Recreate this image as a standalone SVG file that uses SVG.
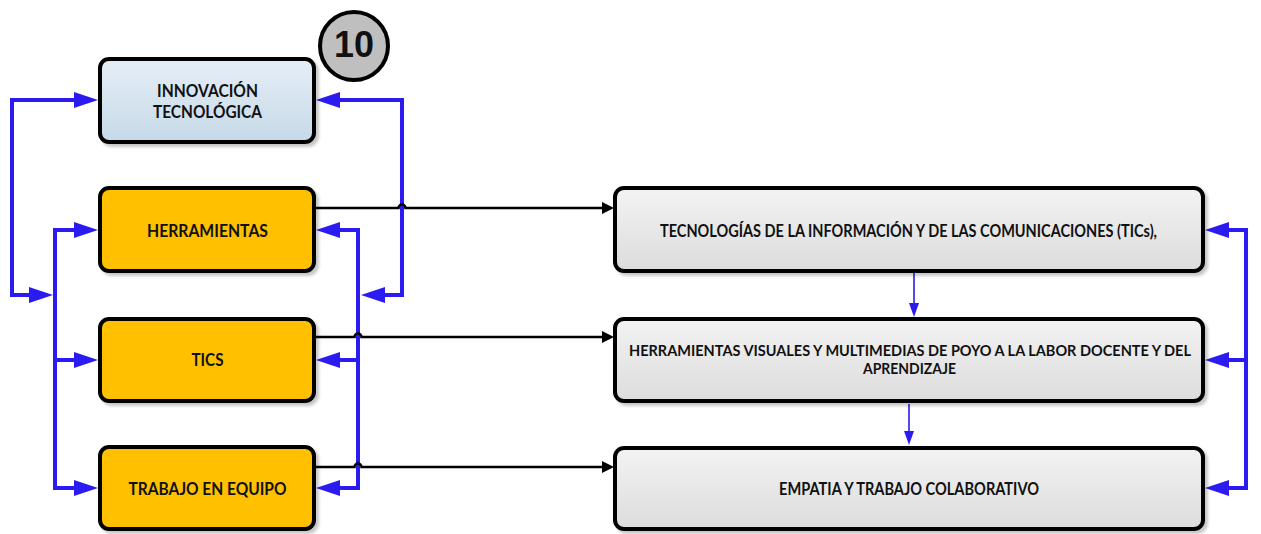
<svg xmlns="http://www.w3.org/2000/svg" width="1261" height="534" viewBox="0 0 1261 534">
  <style>
    .box { stroke: #000; stroke-width: 4; filter: url(#shadow); }
    .blue-box { fill: url(#gBlue); }
    .orange { fill: #ffc000; }
    .grey { fill: url(#gGrey); }
    .lbl { font-family: Lato, "Liberation Sans", sans-serif; font-weight: bold; font-size: 16.5px; fill: #111; text-anchor: middle; }
    .lbl-sm { font-size: 15px; }
    .num { font-family: "Liberation Sans", Arial, sans-serif; font-weight: bold; font-size: 37px; fill: #111; text-anchor: middle; }
    .thick { fill: none; stroke: #2b1bf0; stroke-width: 4; stroke-linejoin: miter; }
    .thin { fill: none; stroke: #2b1bf0; stroke-width: 1.6; }
    .link { fill: none; stroke: #000; stroke-width: 2.5; }
  </style>
  <defs>
    <linearGradient id="gBlue" x1="0" y1="0" x2="0" y2="1">
      <stop offset="0" stop-color="#e5eef6"/>
      <stop offset="1" stop-color="#c6d9e8"/>
    </linearGradient>
    <linearGradient id="gGrey" x1="0" y1="0" x2="0" y2="1">
      <stop offset="0" stop-color="#f3f3f3"/>
      <stop offset="1" stop-color="#dcdcdc"/>
    </linearGradient>
    <filter id="shadow" x="-5%" y="-10%" width="115%" height="130%">
      <feDropShadow dx="3" dy="3" stdDeviation="1.8" flood-color="#000" flood-opacity="0.22"/>
    </filter>
    <marker id="ahBlue" markerUnits="userSpaceOnUse" markerWidth="24" markerHeight="16" viewBox="0 0 24 16" refX="14" refY="8" orient="auto-start-reverse">
      <path d="M0,0 L24,8 L0,16 z" fill="#2b1bf0"/>
    </marker>
    <marker id="ahThin" markerUnits="userSpaceOnUse" markerWidth="14" markerHeight="10" viewBox="0 0 14 10" refX="4" refY="5" orient="auto">
      <path d="M0,0 L14,5 L0,10 z" fill="#2b1bf0"/>
    </marker>
    <marker id="ahBlack" markerUnits="userSpaceOnUse" markerWidth="12" markerHeight="12" viewBox="0 0 12 12" refX="4" refY="6" orient="auto">
      <path d="M0,0 L12,6 L0,12 z" fill="#000"/>
    </marker>
  </defs>

  <!-- connectors -->
  <g id="connectors">
    <!-- left loops -->
    <path class="thick" d="M43,295 L12,295 L12,100 L88,100" marker-start="url(#ahBlue)" marker-end="url(#ahBlue)"/>
    <path class="thick" d="M88,230 L55,230 L55,488 L88,488" marker-start="url(#ahBlue)" marker-end="url(#ahBlue)"/>
    <path class="thick" d="M55,360 L88,360" marker-end="url(#ahBlue)"/>
    <!-- middle loops -->
    <path class="thick" d="M326,100 L402,100 L402,295 L371,295" marker-start="url(#ahBlue)" marker-end="url(#ahBlue)"/>
    <path class="thick" d="M326,230 L358,230 L358,488 L326,488" marker-start="url(#ahBlue)" marker-end="url(#ahBlue)"/>
    <path class="thick" d="M358,360 L326,360" marker-end="url(#ahBlue)"/>
    <!-- right bracket -->
    <path class="thick" d="M1215,230 L1246,230 L1246,488 L1215,488" marker-start="url(#ahBlue)" marker-end="url(#ahBlue)"/>
    <path class="thick" d="M1246,360 L1215,360" marker-end="url(#ahBlue)"/>
    <!-- links to the right column, hopping over the blue lines -->
    <path class="link" d="M316,208 L398.5,208 A3.5,3.5 0 0 1 405.5,208 L606,208" marker-end="url(#ahBlack)"/>
    <path class="link" d="M316,337 L354.5,337 A3.5,3.5 0 0 1 361.5,337 L606,337" marker-end="url(#ahBlack)"/>
    <path class="link" d="M316,467 L354.5,467 A3.5,3.5 0 0 1 361.5,467 L606,467" marker-end="url(#ahBlack)"/>
    <!-- sequence in the right column -->
    <path class="thin" d="M914,273 L914,307" marker-end="url(#ahThin)"/>
    <path class="thin" d="M909,404 L909,435" marker-end="url(#ahThin)"/>
  </g>

  <g id="badge">
    <circle cx="354" cy="46" r="34" fill="#bfbfbf" stroke="#000" stroke-width="4"/>
    <text class="num" x="354" y="57" textLength="40" lengthAdjust="spacingAndGlyphs">10</text>
  </g>

  <g id="innovacion">
    <rect class="box blue-box" x="100" y="59" width="214" height="83" rx="9"/>
    <text class="lbl" x="207.5" y="97" textLength="101" lengthAdjust="spacingAndGlyphs">INNOVACIÓN</text>
    <text class="lbl" x="207.5" y="118" textLength="109" lengthAdjust="spacingAndGlyphs">TECNOLÓGICA</text>
  </g>

  <g id="herramientas">
    <rect class="box orange" x="100" y="188" width="214" height="83" rx="9"/>
    <text class="lbl" x="207.5" y="237" textLength="121" lengthAdjust="spacingAndGlyphs">HERRAMIENTAS</text>
  </g>

  <g id="tics">
    <rect class="box orange" x="100" y="319" width="214" height="82" rx="9"/>
    <text class="lbl" x="207.5" y="366" textLength="32" lengthAdjust="spacingAndGlyphs">TICS</text>
  </g>

  <g id="trabajo">
    <rect class="box orange" x="100" y="447" width="214" height="82" rx="9"/>
    <text class="lbl" x="207.5" y="495" textLength="158" lengthAdjust="spacingAndGlyphs">TRABAJO EN EQUIPO</text>
  </g>

  <g id="tecnologias">
    <rect class="box grey" x="615" y="188" width="588" height="83" rx="9"/>
    <text class="lbl" x="908.5" y="237" textLength="497" lengthAdjust="spacingAndGlyphs">TECNOLOGÍAS DE LA INFORMACIÓN Y DE LAS COMUNICACIONES (TICs),</text>
  </g>

  <g id="herramientas-visuales">
    <rect class="box grey" x="615" y="319" width="588" height="82" rx="9"/>
    <text class="lbl lbl-sm" x="910" y="356" textLength="562" lengthAdjust="spacingAndGlyphs">HERRAMIENTAS VISUALES Y MULTIMEDIAS DE POYO A LA LABOR DOCENTE Y DEL</text>
    <text class="lbl lbl-sm" x="909.5" y="374" textLength="93" lengthAdjust="spacingAndGlyphs">APRENDIZAJE</text>
  </g>

  <g id="empatia">
    <rect class="box grey" x="615" y="448" width="588" height="81" rx="9"/>
    <text class="lbl" x="909" y="495" textLength="260" lengthAdjust="spacingAndGlyphs">EMPATIA Y TRABAJO COLABORATIVO</text>
  </g>
</svg>
